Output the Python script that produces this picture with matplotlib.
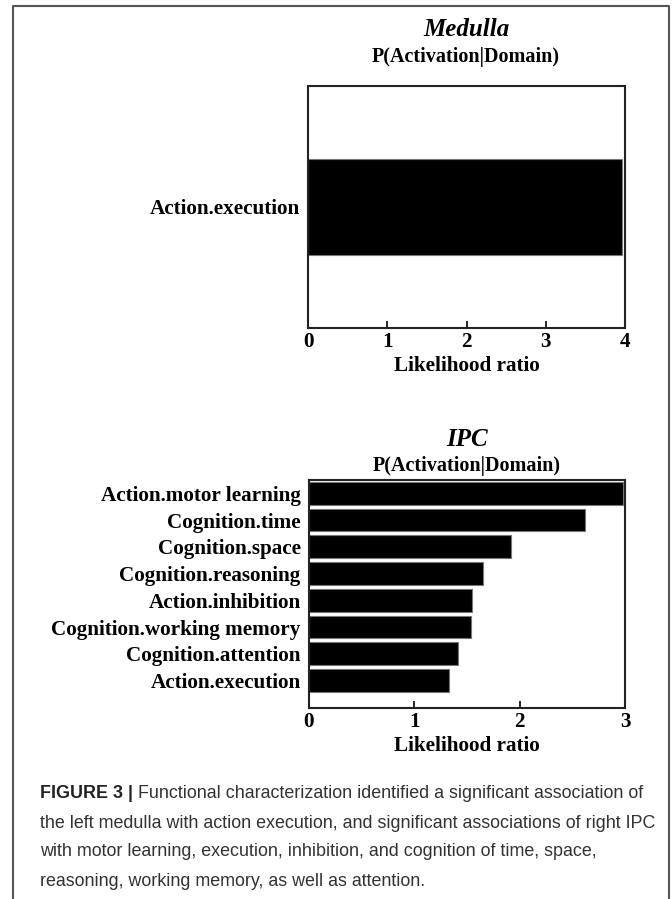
import matplotlib
matplotlib.use('Agg')
import matplotlib.pyplot as plt
from matplotlib.lines import Line2D

# data
medulla_domains = ['Action.execution']
medulla_lr = [3.96]

ipc_domains = ['Action.motor learning', 'Cognition.time', 'Cognition.space',
               'Cognition.reasoning', 'Action.inhibition',
               'Cognition.working memory', 'Cognition.attention',
               'Action.execution']
ipc_lr = [2.98, 2.62, 1.92, 1.65, 1.545, 1.535, 1.41, 1.33]

caption_lines = [
    'Functional characterization identified a significant association of',
    'the left medulla with action execution, and significant associations of right IPC',
    'with motor learning, execution, inhibition, and cognition of time, space,',
    'reasoning, working memory, as well as attention.',
]

W, H = 672, 899
fig = plt.figure(figsize=(W / 100, H / 100), dpi=100)
serif = 'Liberation Serif'
lab_size = 15.2


def fx(px):
    return px / W


def fy(py):
    return 1 - py / H


def style_ax(ax, xmax):
    for s in ax.spines.values():
        s.set_linewidth(1.5)
        s.set_color('#222222')
    ax.set_xlim(0, xmax)
    ax.set_xticks(range(xmax + 1))
    ax.tick_params(axis='x', direction='in', length=5, width=1.2, pad=3,
                   labelsize=lab_size)
    ax.tick_params(axis='y', length=0, pad=6, labelsize=lab_size)
    for lab in ax.get_xticklabels() + ax.get_yticklabels():
        lab.set_fontfamily(serif)
        lab.set_fontweight('bold')
    ax.set_xlabel('Likelihood ratio', fontsize=lab_size, fontweight='bold',
                  fontfamily=serif, labelpad=3)


# Medulla panel
ax1 = fig.add_axes([fx(308), fy(328), fx(625) - fx(308), (328 - 86) / H])
ax1.barh(range(len(medulla_lr)), medulla_lr, height=0.8, color='black',
         edgecolor='#777777', linewidth=0.8)
ax1.set_yticks(range(len(medulla_lr)))
ax1.set_yticklabels(medulla_domains)
ax1.set_ylim(-1, 1)
style_ax(ax1, 4)

# IPC panel
n = len(ipc_lr)
pos = list(range(n - 1, -1, -1))
ax2 = fig.add_axes([fx(309), fy(708), fx(625) - fx(309), (708 - 480) / H])
ax2.barh(pos, ipc_lr, height=0.85, color='black', edgecolor='#777777',
         linewidth=0.8)
ax2.set_yticks(pos)
ax2.set_yticklabels(ipc_domains)
ax2.set_ylim(-1.03, n - 0.5)
style_ax(ax2, 3)

# titles
for cx, y1, y2, name in [(466, 30, 57, 'Medulla'), (467, 440, 466, 'IPC')]:
    fig.text(fx(cx), fy(y1), name, ha='center', va='center', fontsize=18,
             fontweight='bold', fontstyle='italic', fontfamily=serif)
    fig.text(fx(cx), fy(y2), 'P(Activation|Domain)', ha='center',
             va='center', fontsize=14.5, fontweight='bold', fontfamily=serif)

# frame
fig.add_artist(Line2D([fx(13), fx(13), fx(669), fx(669)],
                      [0, fy(6), fy(6), 0], color='#555555', lw=1.5))

# caption
cap_font = 'Liberation Sans'
cap_size = 12.9
cap_col = '#333333'
t0 = fig.text(fx(40), fy(794), 'FIGURE 3 | ', fontsize=cap_size,
              fontweight='bold', fontfamily=cap_font, color='#222222',
              va='center')
fig.canvas.draw()
bb = t0.get_window_extent(renderer=fig.canvas.get_renderer())
fig.text(bb.x1 / W, fy(794), caption_lines[0], fontsize=cap_size,
         fontfamily=cap_font, color=cap_col, va='center')
for i, line in enumerate(caption_lines[1:]):
    fig.text(fx(40), fy(823 + 29 * i), line, fontsize=cap_size,
             fontfamily=cap_font, color=cap_col, va='center')

fig.savefig('out.png', dpi=100)
